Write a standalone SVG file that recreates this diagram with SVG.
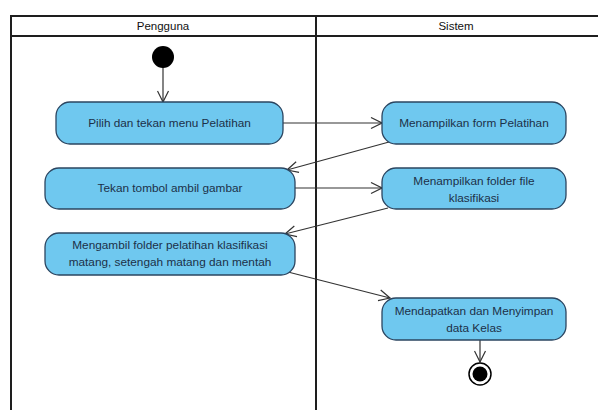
<svg xmlns="http://www.w3.org/2000/svg" width="598" height="410" viewBox="0 0 598 410">
  <style>
    .lane { fill: none; stroke: #1e1e1e; stroke-width: 2; }
    .lane-title { font-family: "Liberation Sans", Arial, sans-serif; font-size: 11.5px; fill: #111; text-anchor: middle; }
    .action { fill: #6fc8ef; stroke: #2b4560; stroke-width: 1.3; }
    .label { font-family: "Liberation Sans", Arial, sans-serif; font-size: 11.8px; fill: #1c3048; text-anchor: middle; }
    .flow { fill: none; stroke: #333; stroke-width: 1.2; marker-end: url(#open); }
  </style>
  <defs>
    <marker id="open" viewBox="0 0 13 13" refX="12" refY="6.5" markerWidth="13" markerHeight="13" markerUnits="userSpaceOnUse" orient="auto">
      <path d="M1,1 L12,6.5 L1,12" fill="none" stroke="#333" stroke-width="1.2"/>
    </marker>
  </defs>
  <rect width="598" height="410" fill="#fff"/>

  <!-- swimlanes -->
  <g id="lanes">
    <path class="lane" d="M11,410 V16 H600 M11,36 H600 M316,16 V410"/>
    <text class="lane-title" x="163" y="30">Pengguna</text>
    <text class="lane-title" x="456" y="30">Sistem</text>
  </g>

  <!-- control flows -->
  <g id="connectors">
    <line class="flow" x1="163" y1="66" x2="163" y2="102"/>
    <line class="flow" x1="283" y1="123" x2="382" y2="123"/>
    <line class="flow" x1="389" y1="142" x2="287" y2="170"/>
    <line class="flow" x1="295" y1="188" x2="382" y2="188"/>
    <line class="flow" x1="388" y1="208" x2="285" y2="234"/>
    <line class="flow" x1="288" y1="272" x2="390" y2="298"/>
    <line class="flow" x1="480" y1="340" x2="480" y2="362"/>
  </g>

  <g id="start">
    <circle cx="163" cy="57" r="11" fill="#000"/>
  </g>

  <g id="pilih-menu">
    <rect class="action" x="56" y="102" width="227" height="42" rx="14"/>
    <text class="label" x="169.5" y="127">Pilih dan tekan menu Pelatihan</text>
  </g>

  <g id="tampil-form">
    <rect class="action" x="382" y="102" width="184" height="42" rx="14"/>
    <text class="label" x="474" y="127">Menampilkan form Pelatihan</text>
  </g>

  <g id="tekan-tombol">
    <rect class="action" x="45" y="168" width="250" height="41" rx="14"/>
    <text class="label" x="170" y="192">Tekan tombol ambil gambar</text>
  </g>

  <g id="tampil-folder">
    <rect class="action" x="382" y="168" width="184" height="41" rx="14"/>
    <text class="label" x="474" y="185">Menampilkan folder file</text>
    <text class="label" x="474" y="202">klasifikasi</text>
  </g>

  <g id="ambil-folder">
    <rect class="action" x="45" y="233" width="250" height="42" rx="14"/>
    <text class="label" x="170" y="249">Mengambil folder pelatihan klasifikasi</text>
    <text class="label" x="170" y="266">matang, setengah matang dan mentah</text>
  </g>

  <g id="simpan-kelas">
    <rect class="action" x="382" y="298" width="184" height="42" rx="14"/>
    <text class="label" x="474" y="315">Mendapatkan dan Menyimpan</text>
    <text class="label" x="474" y="332">data Kelas</text>
  </g>

  <g id="end">
    <circle cx="480" cy="374" r="11" fill="#fff" stroke="#000" stroke-width="1.5"/>
    <circle cx="480" cy="374" r="7.5" fill="#000"/>
  </g>
</svg>
